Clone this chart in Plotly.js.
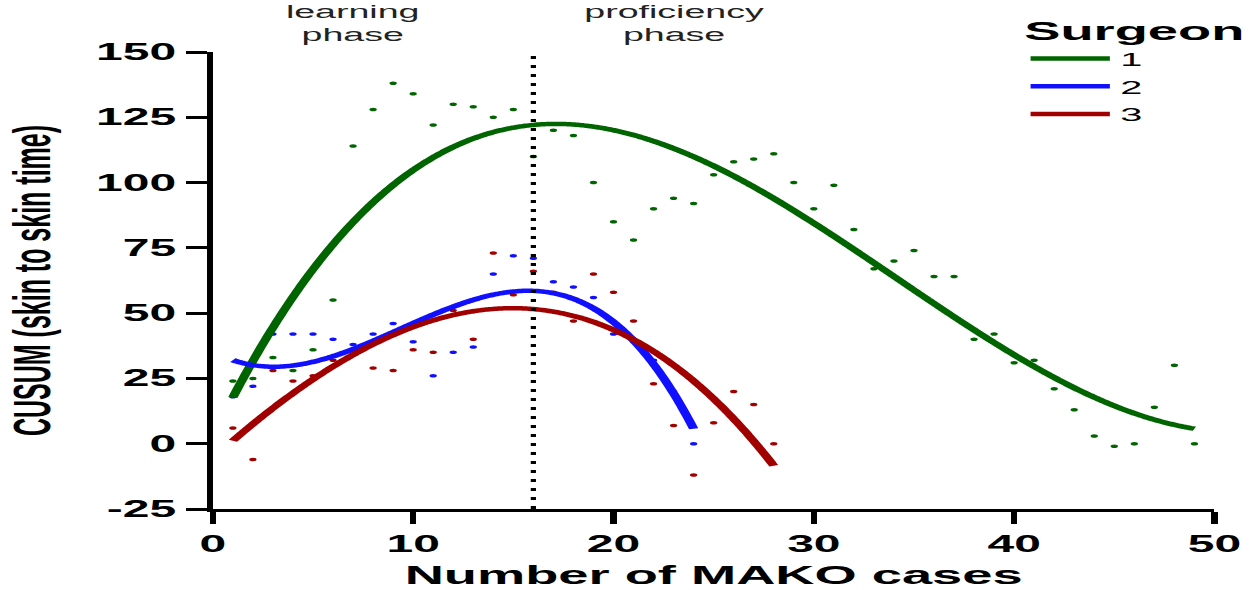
<!DOCTYPE html>
<html>
<head>
<meta charset="utf-8">
<script src="https://cdn.plot.ly/plotly-3.0.1.min.js"></script>
<style>
  html, body { margin: 0; padding: 0; overflow: hidden; background: #fff; width: 1252px; height: 590px; }
  #wrap { position: absolute; left: 0; top: 0; width: 600px; height: 590px; transform: scaleX(2.0867); transform-origin: 0 0; }
  #chart { width: 600px; height: 590px; }
</style>
</head>
<body>
<div id="wrap"><div id="chart"></div></div>
<script>
// ---- Data ----
const surgeonNames = ['1', '2', '3'];
const seriesColors = ['#006400', '#1010ff', '#a00000'];

// CUSUM values per case (case number = index + 1)
const surgeon1Cusum = [24, 25, 33, 28, 36, 55, 114, 128, 138, 134, 122, 130, 129, 125, 128, 110,
  120, 118, 100, 85, 78, 90, 94, 92, 103, 108, 109, 111, 100, 90, 99, 82, 67, 70, 74, 64, 64,
  40, 42, 31, 32, 21, 13, 3, -1, 0, 14, 30, 0];
const surgeon2Cusum = [18, 22, 42, 42, 42, 40, 38, 42, 46, 39, 26, 35, 37, 65, 72, 71, 62, 60,
  56, 42, 39, 32, 20, 0];
const surgeon3Cusum = [6, -6, 28, 24, 26, 32, 34, 29, 28, 36, 35, 51, 40, 73, 57, 66, 58, 47, 65,
  58, 47, 23, 7, -12, 8, 20, 15, 0];

const fitDegrees = [3, 3, 3];
const phaseSplitCase = 16;
const phaseLabels = ['learning<br>phase', 'proficiency<br>phase'];
const phaseLabelX = [7, 23];
const xTickVals = [0, 10, 20, 30, 40, 50];
const yTickVals = [-25, 0, 25, 50, 75, 100, 125, 150];

// ---- least-squares polynomial trend (computed from the data) ----
function polyfit(xs, ys, deg) {
  const n = xs.length;
  const mean = xs.reduce((a, b) => a + b, 0) / n;
  const scale = Math.max(...xs.map(v => Math.abs(v - mean))) || 1;
  const us = xs.map(v => (v - mean) / scale);
  const m = deg + 1;
  const A = [], b = [];
  for (let i = 0; i < m; i++) {
    A.push(new Array(m).fill(0));
    b.push(0);
  }
  for (let k = 0; k < n; k++) {
    for (let i = 0; i < m; i++) {
      b[i] += ys[k] * Math.pow(us[k], i);
      for (let j = 0; j < m; j++) A[i][j] += Math.pow(us[k], i + j);
    }
  }
  for (let c = 0; c < m; c++) {
    let p = c;
    for (let r = c + 1; r < m; r++) if (Math.abs(A[r][c]) > Math.abs(A[p][c])) p = r;
    [A[c], A[p]] = [A[p], A[c]];
    [b[c], b[p]] = [b[p], b[c]];
    for (let r = c + 1; r < m; r++) {
      const f = A[r][c] / A[c][c];
      for (let j = c; j < m; j++) A[r][j] -= f * A[c][j];
      b[r] -= f * b[c];
    }
  }
  const coef = new Array(m).fill(0);
  for (let r = m - 1; r >= 0; r--) {
    let s = b[r];
    for (let j = r + 1; j < m; j++) s -= A[r][j] * coef[j];
    coef[r] = s / A[r][r];
  }
  return x => {
    const u = (x - mean) / scale;
    let s = 0;
    for (let i = 0; i < m; i++) s += coef[i] * Math.pow(u, i);
    return s;
  };
}

const allSeries = [surgeon1Cusum, surgeon2Cusum, surgeon3Cusum];
const traces = [];
allSeries.forEach((vals, i) => {
  const cases = vals.map((_, k) => k + 1);
  traces.push({
    x: cases, y: vals, type: 'scatter', mode: 'markers',
    marker: { color: seriesColors[i], size: 3.5 },
    showlegend: false, hoverinfo: 'x+y'
  });
});
allSeries.forEach((vals, i) => {
  const cases = vals.map((_, k) => k + 1);
  const f = polyfit(cases, vals, fitDegrees[i]);
  const fx = [];
  for (let x = cases[0]; x <= cases[cases.length - 1] + 1e-9; x += 0.1) fx.push(+x.toFixed(2));
  traces.push({
    x: fx, y: fx.map(f), type: 'scatter', mode: 'lines',
    name: surgeonNames[i],
    line: { color: seriesColors[i], width: 4.5, shape: 'spline' },
    hoverinfo: 'skip'
  });
});

const FONT = 'Liberation Sans, Arial, Helvetica, sans-serif';

const layout = {
  width: 600, height: 590,
  margin: { l: 102, r: 18, t: 52, b: 81, autoexpand: false },
  paper_bgcolor: '#fff', plot_bgcolor: '#fff',
  font: { family: FONT, color: '#000' },
  xaxis: {
    range: [0, 50], tickvals: xTickVals, ticktext: xTickVals.map(String),
    showline: true, linecolor: '#000', linewidth: 3,
    ticks: 'outside', ticklen: 12, tickwidth: 3, tickcolor: '#000',
    showgrid: false, zeroline: false,
    tickfont: { family: FONT, size: 23, weight: 'bold', color: '#000' },
    title: { text: 'Number of MAKO cases', font: { family: FONT, size: 26, weight: 'bold', color: '#000' }, standoff: 16 }
  },
  yaxis: {
    range: [-25, 150], tickvals: yTickVals, ticktext: yTickVals.map(String),
    showline: true, linecolor: '#000', linewidth: 3,
    ticks: 'outside', ticklen: 10, tickwidth: 3, tickcolor: '#000',
    showgrid: false, zeroline: false,
    tickfont: { family: FONT, size: 23, weight: 'bold', color: '#000' },
    title: { text: 'CUSUM (skin to skin time)', font: { family: FONT, size: 25, weight: 'bold', color: '#000' }, standoff: 15 }
  },
  legend: {
    x: 0.806, y: 1.101, xanchor: 'left', yanchor: 'top',
    bgcolor: 'rgba(0,0,0,0)', borderwidth: 0,
    itemwidth: 38, tracegroupgap: 0,
    font: { family: FONT, size: 19, color: '#000' },
    title: { text: 'Surgeon', font: { family: FONT, size: 26, weight: 'bold', color: '#000' } }
  },
  shapes: [{
    type: 'line', xref: 'x', yref: 'paper', x0: phaseSplitCase, x1: phaseSplitCase, y0: 0, y1: 1,
    line: { color: '#000', width: 2.5, dash: '3px,6px' }
  }],
  annotations: phaseLabels.map((t, i) => ({
    text: t, x: phaseLabelX[i], xref: 'x', y: 1, yref: 'paper',
    xanchor: 'center', yanchor: 'bottom', yshift: 5, showarrow: false,
    font: { family: FONT, size: 18, color: '#222' }
  }))
};

Plotly.newPlot('chart', traces, layout, { displayModeBar: false, staticPlot: true });
</script>
</body>
</html>
